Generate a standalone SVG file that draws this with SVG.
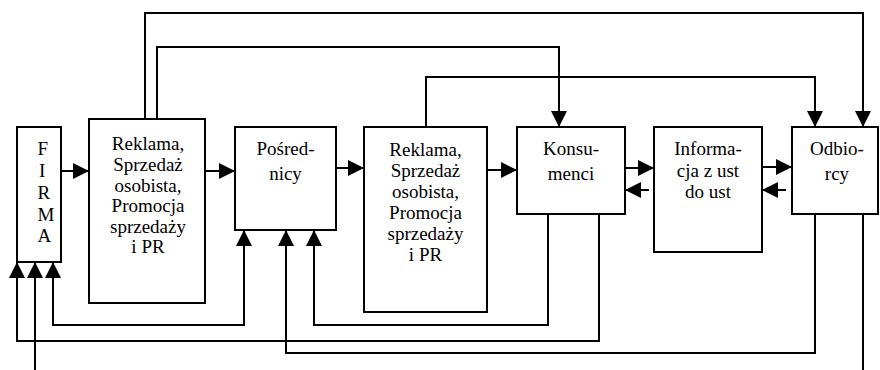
<svg xmlns="http://www.w3.org/2000/svg" width="880" height="370" viewBox="0 0 880 370">
<style>
.box{fill:#fff;stroke:#000;stroke-width:2}
.t{font-family:'Liberation Serif','DejaVu Serif',serif;font-size:19px;fill:#000;text-anchor:middle}
.c{fill:none;stroke:#000;stroke-width:2}
</style>
<defs>
<marker id="ah" markerUnits="userSpaceOnUse" markerWidth="16" markerHeight="16" refX="16" refY="8" orient="auto-start-reverse" viewBox="0 0 16 16">
<path d="M0,0 L16,8 L0,16 z" fill="#000"/>
</marker>
</defs>
<rect width="880" height="370" fill="#fff"/>
<g id="connectors">
<path class="c" d="M61,171 H89" marker-end="url(#ah)"/>
<path class="c" d="M205,171 H235" marker-end="url(#ah)"/>
<path class="c" d="M336,168 H364" marker-end="url(#ah)"/>
<path class="c" d="M487,170 H517" marker-end="url(#ah)"/>
<path class="c" d="M625,168 H654" marker-end="url(#ah)"/>
<path class="c" d="M649,190 H625" marker-end="url(#ah)"/>
<path class="c" d="M762,167 H792" marker-end="url(#ah)"/>
<path class="c" d="M786,190 H762" marker-end="url(#ah)"/>
<path class="c" d="M145,119 V13 H863 V127" marker-end="url(#ah)"/>
<path class="c" d="M157,119 V47 H559 V127" marker-end="url(#ah)"/>
<path class="c" d="M426,127 V77 H815 V127" marker-end="url(#ah)"/>
<path class="c" d="M53,262 V325 H244 V230" marker-start="url(#ah)" marker-end="url(#ah)"/>
<path class="c" d="M548,214 V325 H314 V230" marker-end="url(#ah)"/>
<path class="c" d="M599,214 V341 H17 V262" marker-end="url(#ah)"/>
<path class="c" d="M815,214 V353 H286 V230" marker-end="url(#ah)"/>
<path class="c" d="M35,370 V262" marker-end="url(#ah)"/>
<path class="c" d="M863,214 V370"/>
</g>
<g id="firma">
<rect class="box" x="17" y="127" width="44" height="135"/>
<text class="t" style="text-anchor:start" x="37.5" y="155">F</text>
<text class="t" style="text-anchor:start" x="39" y="177">I</text>
<text class="t" style="text-anchor:start" x="37.5" y="199">R</text>
<text class="t" style="text-anchor:start" x="37.5" y="220.5">M</text>
<text class="t" style="text-anchor:start" x="37.5" y="242">A</text>
</g>
<g id="reklama1">
<rect class="box" x="89" y="119" width="116" height="184"/>
<text class="t" x="148" y="150">Reklama,</text>
<text class="t" x="148" y="171">Sprzedaż</text>
<text class="t" x="148" y="191.5">osobista,</text>
<text class="t" x="148" y="212">Promocja</text>
<text class="t" x="148" y="232.5">sprzedaży</text>
<text class="t" x="148" y="253">i PR</text>
</g>
<g id="posrednicy">
<rect class="box" x="235" y="127" width="101" height="103"/>
<text class="t" x="285.5" y="155">Pośred-</text>
<text class="t" x="285.5" y="180">nicy</text>
</g>
<g id="reklama2">
<rect class="box" x="364" y="127" width="123" height="185"/>
<text class="t" x="425.5" y="156">Reklama,</text>
<text class="t" x="425.5" y="177">Sprzedaż</text>
<text class="t" x="425.5" y="198">osobista,</text>
<text class="t" x="425.5" y="219">Promocja</text>
<text class="t" x="425.5" y="240">sprzedaży</text>
<text class="t" x="425.5" y="261">i PR</text>
</g>
<g id="konsumenci">
<rect class="box" x="517" y="127" width="108" height="87"/>
<text class="t" x="571" y="155">Konsu-</text>
<text class="t" x="571" y="180">menci</text>
</g>
<g id="informacja">
<rect class="box" x="654" y="127" width="108" height="125"/>
<text class="t" x="708" y="155">Informa-</text>
<text class="t" x="708" y="176.5">cja z ust</text>
<text class="t" x="708" y="198">do ust</text>
</g>
<g id="odbiorcy">
<rect class="box" x="792" y="127" width="86" height="87"/>
<text class="t" x="837" y="155">Odbio-</text>
<text class="t" x="837" y="180">rcy</text>
</g>
</svg>
